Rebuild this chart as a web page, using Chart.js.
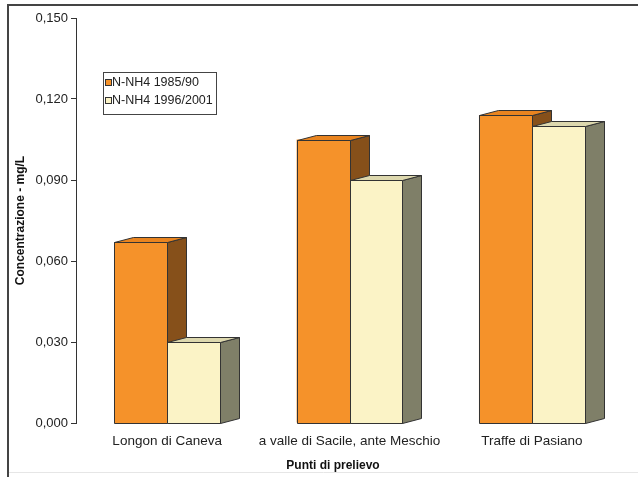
<!DOCTYPE html>
<html>
<head>
<meta charset="utf-8">
<script src="https://cdn.jsdelivr.net/npm/chart.js@4.4.1/dist/chart.umd.min.js"></script>
<style>
    html, body { margin: 0; padding: 0; background: #fff; }
    #wrap { width: 638px; height: 477px; position: relative; }
</style>
</head>
<body>
<div id="wrap"><canvas id="chart"></canvas></div>
<script>
// data
const categories = ["Longon di Caneva", "a valle di Sacile, ante Meschio", "Traffe di Pasiano"];
const seriesNames = ["N-NH4 1985/90", "N-NH4 1996/2001"];
const values8590 = [0.067, 0.105, 0.114];
const values9601 = [0.030, 0.090, 0.110];
const yTicks = [0, 0.03, 0.06, 0.09, 0.12, 0.15];

const DX = 19, DY = 5; // depth of the fake 3d

Chart.defaults.font.family = "'Liberation Sans', Arial, sans-serif";
Chart.defaults.color = "#222";

function poly(ctx, pts, fill) {
    ctx.beginPath();
    ctx.moveTo(pts[0][0], pts[0][1]);
    for (let i = 1; i < pts.length; i++) ctx.lineTo(pts[i][0], pts[i][1]);
    ctx.closePath();
    ctx.fillStyle = fill;
    ctx.fill();
    ctx.stroke();
}

// side and top faces of each bar, drawn in dataset order
const bar3d = {
    id: "bar3d",
    afterDatasetsDraw(chart) {
        const ctx = chart.ctx;
        ctx.save();
        ctx.lineWidth = 1;
        ctx.strokeStyle = "#333";
        chart.data.datasets.forEach((ds, i) => {
            chart.getDatasetMeta(i).data.forEach(bar => {
                const l = Math.round(bar.x - bar.width / 2) + 0.5;
                const r = Math.round(bar.x + bar.width / 2) + 0.5;
                const t = Math.round(bar.y) + 0.5;
                const b = Math.round(bar.base) + 0.5;
                poly(ctx, [[l, t], [r, t], [r, b], [l, b]], ds.backgroundColor);
                poly(ctx, [[r, t], [r + DX, t - DY], [r + DX, b - DY], [r, b]], ds.sideColor);
                poly(ctx, [[l, t], [l + DX, t - DY], [r + DX, t - DY], [r, t]], ds.topColor);
            });
        });
        ctx.restore();
    }
};

// frame, legend box and x axis title
const extras = {
    id: "extras",
    beforeDraw(chart) {
        const ctx = chart.ctx;
        ctx.save();
        ctx.fillStyle = "#fff";
        ctx.fillRect(0, 0, chart.width, chart.height);
        ctx.strokeStyle = "#444";
        ctx.lineWidth = 2;
        ctx.beginPath();
        ctx.moveTo(8, chart.height);
        ctx.lineTo(8, 5);
        ctx.lineTo(chart.width, 5);
        ctx.stroke();
        ctx.strokeStyle = "#e6e6e6";
        ctx.lineWidth = 1;
        ctx.beginPath();
        ctx.moveTo(9, 472.5);
        ctx.lineTo(chart.width, 472.5);
        ctx.stroke();
        ctx.restore();
    },
    afterDraw(chart) {
        const ctx = chart.ctx;
        ctx.save();
        // legend
        ctx.fillStyle = "#fff";
        ctx.fillRect(103.5, 72.5, 113, 42);
        ctx.strokeStyle = "#444";
        ctx.lineWidth = 1;
        ctx.strokeRect(103.5, 72.5, 113, 42);
        ctx.font = "12.5px 'Liberation Sans', Arial, sans-serif";
        ctx.textBaseline = "middle";
        chart.data.datasets.forEach((ds, i) => {
            const cy = 83 + i * 18;
            ctx.fillStyle = ds.backgroundColor;
            ctx.fillRect(105.5, cy - 3.5, 6, 6);
            ctx.strokeStyle = "#333";
            ctx.strokeRect(105.5, cy - 3.5, 6, 6);
            ctx.fillStyle = "#222";
            ctx.fillText(ds.label, 112, cy);
        });
        // x axis title
        ctx.font = "bold 12px 'Liberation Sans', Arial, sans-serif";
        ctx.textAlign = "center";
        ctx.fillStyle = "#111";
        ctx.fillText("Punti di prelievo", 333, 466);
        ctx.restore();
    }
};

const ctx = document.getElementById("chart").getContext("2d");

new Chart(ctx, {
    type: "bar",
    data: {
        labels: categories,
        datasets: [{
            label: seriesNames[0],
            data: values8590,
            backgroundColor: "#F5922A",
            sideColor: "#86501A",
            topColor: "#E9841F",
            borderWidth: 0,
        }, {
            label: seriesNames[1],
            data: values9601,
            backgroundColor: "#FBF3C6",
            sideColor: "#7F7F68",
            topColor: "#DDD8AE",
            borderWidth: 0,
        }],
    },
    options: {
        responsive: true,
        maintainAspectRatio: false,
        animation: false,
        layout: { padding: { left: 0, right: 15, top: 18, bottom: 0 } },
        datasets: { bar: { categoryPercentage: 0.58, barPercentage: 1 } },
        plugins: {
            legend: { display: false },
            tooltip: { enabled: false },
        },
        scales: {
            x: {
                grid: { display: false, drawTicks: false },
                border: { display: false },
                ticks: { padding: 10, font: { size: 13.5 }, color: "#222", maxRotation: 0, autoSkip: false },
                afterFit(scale) { scale.height = 54; },
            },
            y: {
                min: 0,
                max: 0.15,
                afterBuildTicks(scale) { scale.ticks = yTicks.map(v => ({ value: v })); },
                grid: { drawOnChartArea: false, tickLength: 5, color: "#333" },
                border: { color: "#333" },
                ticks: {
                    padding: 3,
                    font: { size: 13 },
                    color: "#222",
                    callback: v => v.toFixed(3).replace(".", ","),
                },
                title: {
                    display: true,
                    text: "Concentrazione - mg/L",
                    font: { size: 12, weight: "bold" },
                    color: "#111",
                    padding: { top: 13, bottom: 0 },
                },
                afterFit(scale) { scale.width = 76; },
            },
        },
    },
    plugins: [bar3d, extras],
});
</script>
</body>
</html>
